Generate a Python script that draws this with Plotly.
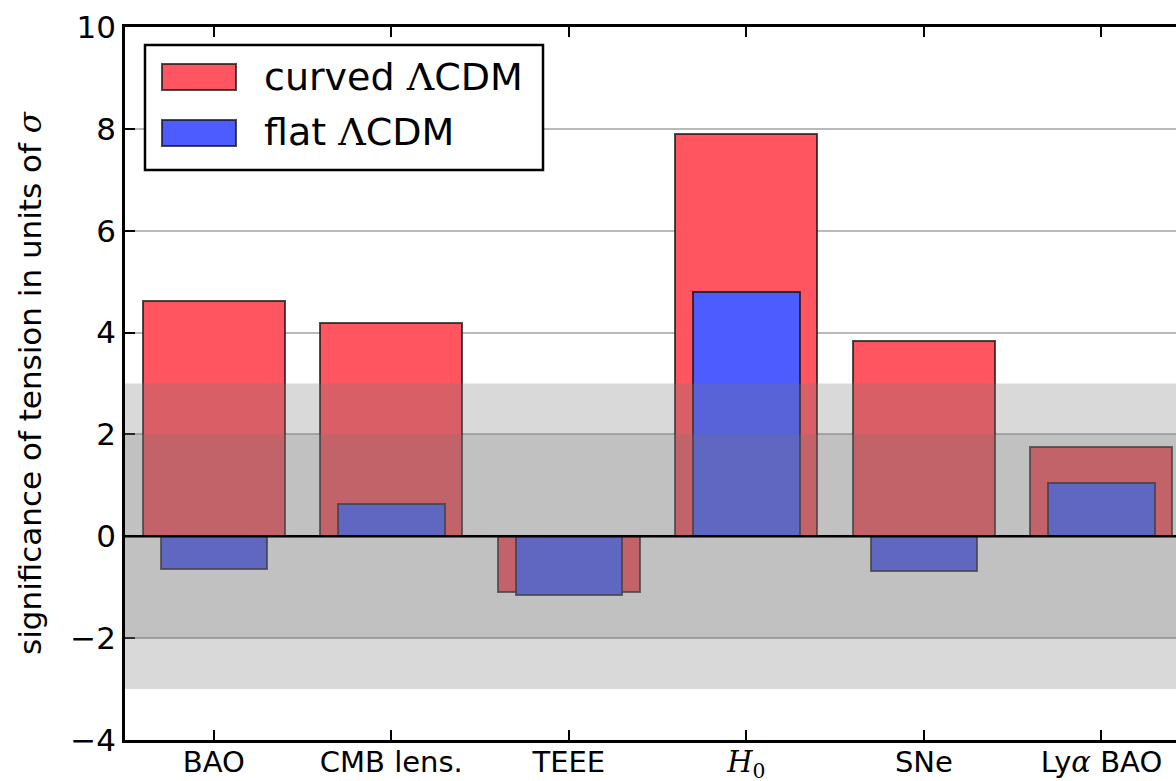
import plotly.graph_objects as go

# Data: tension significance (in sigma) per probe for the two cosmologies
probes = ["BAO", "CMB lens.", "TEEE", "H0", "SNe", "LyaBAO"]
tick_text = [
    "BAO",
    "CMB lens.",
    "TEEE",
    "<span style='font-family:DejaVu Serif'><i>H</i><sub>0</sub></span>",
    "SNe",
    "Ly<span style='font-family:DejaVu Serif'><i>α</i></span> BAO",
]
curved_lcdm = [4.62, 4.18, -1.09, 7.89, 3.83, 1.75]
flat_lcdm = [-0.65, 0.63, -1.16, 4.80, -0.68, 1.05]
y_ticks = [-4, -2, 0, 2, 4, 6, 8, 10]

RED = "#FF5560"
BLUE = "#4D5CFF"
EDGE = "rgba(20,20,20,0.75)"
FONT = "DejaVu Sans"

x_pos = list(range(len(probes)))

fig = go.Figure()
fig.add_trace(go.Bar(
    x=x_pos, y=curved_lcdm, width=0.8, name="curved ΛCDM",
    marker=dict(color=RED, line=dict(color=EDGE, width=2)),
    showlegend=False,
))
fig.add_trace(go.Bar(
    x=x_pos, y=flat_lcdm, width=0.6, name="flat ΛCDM",
    marker=dict(color=BLUE, line=dict(color=EDGE, width=2)),
    showlegend=False,
))

# 3-sigma and 2-sigma shaded bands drawn over the bars
shapes = [
    dict(type="rect", xref="paper", x0=0, x1=1, yref="y", y0=-3, y1=3,
         fillcolor="rgba(118,118,118,0.28)", line=dict(width=0), layer="above"),
    dict(type="rect", xref="paper", x0=0, x1=1, yref="y", y0=-2, y1=2,
         fillcolor="rgba(118,118,118,0.24)", line=dict(width=0), layer="above"),
    dict(type="line", xref="paper", x0=0, x1=1, yref="y", y0=0, y1=0,
         line=dict(color="black", width=2.5), layer="above"),
]

# Hand-drawn legend box with large patches
W, H = 1051.0, 713.0  # plot area in pixels


def px(x):
    return (x - 125) / W


def py(y):
    return (740 - y) / H


shapes.append(dict(type="rect", xref="paper", yref="paper",
                   x0=px(145), x1=px(543), y0=py(170), y1=py(45),
                   fillcolor="white", line=dict(color="black", width=2.5),
                   layer="above"))
shapes.append(dict(type="rect", xref="paper", yref="paper",
                   x0=px(162), x1=px(236), y0=py(90), y1=py(64),
                   fillcolor=RED, line=dict(color=EDGE, width=2), layer="above"))
shapes.append(dict(type="rect", xref="paper", yref="paper",
                   x0=px(162), x1=px(236), y0=py(146), y1=py(120),
                   fillcolor=BLUE, line=dict(color=EDGE, width=2), layer="above"))

annotations = [
    dict(xref="paper", yref="paper", x=px(262), y=py(77), xanchor="left",
         yanchor="middle", showarrow=False,
         text="curved <span style='font-family:DejaVu Serif'>Λ</span>CDM",
         font=dict(family=FONT, size=38, color="black")),
    dict(xref="paper", yref="paper", x=px(262), y=py(132), xanchor="left",
         yanchor="middle", showarrow=False,
         text="flat <span style='font-family:DejaVu Serif'>Λ</span>CDM",
         font=dict(family=FONT, size=38, color="black")),
]

fig.update_layout(
    width=1176, height=781,
    margin=dict(l=125, r=0, t=27, b=41),
    paper_bgcolor="white", plot_bgcolor="white",
    barmode="overlay",
    bargap=0,
    shapes=shapes,
    annotations=annotations,
    font=dict(family=FONT, color="black"),
    xaxis=dict(
        range=[-0.5, 5.42],
        automargin=False,
        tickmode="array", tickvals=x_pos, ticktext=tick_text,
        ticks="inside", ticklen=10, tickwidth=1.5, tickcolor="black",
        showline=True, linecolor="black", linewidth=2.5, mirror="ticks",
        showgrid=False, zeroline=False,
        tickfont=dict(family=FONT, size=29, color="black"),
        ticklabelstandoff=-6,
        layer="above traces",
    ),
    yaxis=dict(
        range=[-4, 10],
        automargin=False,
        tickmode="array", tickvals=y_ticks,
        ticks="inside", ticklen=10, tickwidth=1.5, tickcolor="black",
        showline=True, linecolor="black", linewidth=2.5,
        showgrid=True, gridcolor="rgba(100,100,100,0.45)", gridwidth=2,
        zeroline=False,
        tickfont=dict(family=FONT, size=31, color="black"),
        title=dict(text="significance of tension in units of "
                        "<span style='font-family:DejaVu Serif'><i>σ</i></span>",
                   font=dict(family=FONT, size=31, color="black"), standoff=20),
        layer="above traces",
    ),
)

fig.write_html("out.html")
